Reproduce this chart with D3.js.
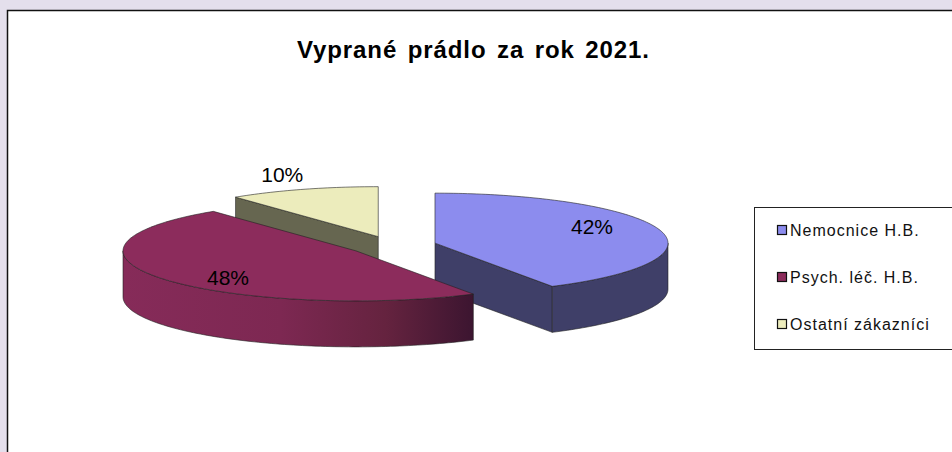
<!DOCTYPE html>
<html lang="cs">
<head>
    <meta charset="utf-8">
    <title>Vyprané prádlo za rok 2021.</title>
    <script src="https://d3js.org/d3.v7.min.js"></script>
    <style>
        html, body { margin: 0; padding: 0; background: #e4dfec; overflow: hidden; }
        svg { display: block; font-family: "Liberation Sans", Arial, sans-serif; }
    </style>
</head>
<body>
<div id="chart"></div>
<script>
	var categories = ["Nemocnice H.B.", "Psych. léč. H.B.", "Ostatní zákazníci"];
	var values = [41.6, 47.9, 10.49];
	var topColors = ["#8c8cee", "#8c2c5c", "#ececbc"];
	var sideColors = ["#3f3f68", "#7d2852", "#666650"];
	var chartTitle = "Vyprané prádlo za rok 2021.";

	var width = 952, height = 452;
	var cx = 392.5, cy = 245.6, rx = 233, ry = 50, depth = 46, explode = 44;
	// label anchors relative to slice centre, tweaked by eye
	var labelOffset = [[157, -9], [-128, 34], [-96, -55]];

	var svg = d3.select("#chart").append("svg")
		.attr("width", width).attr("height", height);

	svg.append("rect")
		.attr("x", 7.5).attr("y", 10.5)
		.attr("width", width + 20).attr("height", height + 20)
		.attr("fill", "#fff").attr("stroke", "#111").attr("stroke-width", 1.5);

	svg.append("text")
		.attr("x", 473.5).attr("y", 58)
		.attr("text-anchor", "middle")
		.attr("font-size", 24).attr("font-weight", "bold")
		.attr("letter-spacing", 0.9).attr("word-spacing", 3)
		.attr("fill", "#000")
		.text(chartTitle);

	var defs = svg.append("defs");
	var grad = defs.append("linearGradient")
		.attr("id", "psychSide")
		.attr("gradientUnits", "objectBoundingBox")
		.attr("x1", 0).attr("x2", 1).attr("y1", 0).attr("y2", 0);
	[[0, "#862b59"], [0.45, "#7d2852"], [0.75, "#65233f"], [1, "#3c1530"]].forEach(function (s) {
		grad.append("stop").attr("offset", s[0]).attr("stop-color", s[1]);
	});

	var pie = d3.pie().sort(null).value(function (d) { return d; });
	var slices = pie(values);
	var pct = d3.format(".0%"), total = d3.sum(values);

	function px(a) { return rx * Math.sin(a); }
	function py(a) { return -ry * Math.cos(a); }

	var rim = d3.line().x(function (d) { return px(d); }).y(function (d) { return py(d); });
	var wall = d3.area()
		.x(function (d) { return px(d); })
		.y0(function (d) { return py(d); })
		.y1(function (d) { return py(d) + depth; });

	function sample(a0, a1) {
		var n = Math.max(2, Math.ceil((a1 - a0) / 0.02)), pts = [];
		for (var i = 0; i <= n; i++) pts.push(a0 + (a1 - a0) * i / n);
		return pts;
	}

	function face(a) {
		var x = px(a), y = py(a);
		return "M0,0L" + x + "," + y + "L" + x + "," + (y + depth) + "L0," + depth + "Z";
	}

	// back to front: yellow, blue, purple
	[2, 0, 1].forEach(function (i) {
		var s = slices[i];
		var mid = (s.startAngle + s.endAngle) / 2;
		var g = svg.append("g")
			.attr("transform", "translate(" + (cx + explode * Math.sin(mid)) + "," + (cy - explode * (ry / rx) * Math.cos(mid)) + ")");
		var side = i === 1 ? "url(#psychSide)" : sideColors[i];

		if (Math.sin(s.startAngle) < -0.01) {
			g.append("path").attr("d", face(s.startAngle))
				.attr("fill", sideColors[i]).attr("stroke", "#222").attr("stroke-width", 0.6);
		}
		if (Math.sin(s.endAngle) > 0.01) {
			g.append("path").attr("d", face(s.endAngle))
				.attr("fill", sideColors[i]).attr("stroke", "#222").attr("stroke-width", 0.6);
		}
		var w0 = Math.max(s.startAngle, Math.PI / 2), w1 = Math.min(s.endAngle, Math.PI * 1.5);
		if (w1 > w0) {
			g.append("path").datum(sample(w0, w1)).attr("d", wall)
				.attr("fill", side).attr("stroke", "#222").attr("stroke-width", 0.6);
		}
		g.append("path")
			.attr("d", "M0,0L" + rim(sample(s.startAngle, s.endAngle)).slice(1) + "Z")
			.attr("fill", topColors[i]).attr("stroke", "#222").attr("stroke-width", 0.6)
			.attr("stroke-linejoin", "round");
		s.group = g;
	});

	slices.forEach(function (s, i) {
		s.group.append("text")
			.attr("x", labelOffset[i][0]).attr("y", labelOffset[i][1])
			.attr("text-anchor", "middle")
			.attr("font-size", 21).attr("fill", "#000")
			.text(pct(values[i] / total));
	});

	var legend = svg.append("g");
	legend.append("rect")
		.attr("x", 754.5).attr("y", 207.5).attr("width", 240).attr("height", 142)
		.attr("fill", "#fff").attr("stroke", "#222").attr("stroke-width", 1);

	var ly = d3.scalePoint().domain(categories).range([230, 324]);
	categories.forEach(function (c, i) {
		legend.append("rect")
			.attr("x", 777.5).attr("y", ly(c) - 4.5).attr("width", 9).attr("height", 9)
			.attr("fill", topColors[i]).attr("stroke", "#111").attr("stroke-width", 1.2);
		legend.append("text")
			.attr("x", 790).attr("y", ly(c) + 5.5)
			.attr("font-size", 16).attr("letter-spacing", 1)
			.attr("fill", "#111")
			.text(c);
	});
</script>
</body>
</html>
